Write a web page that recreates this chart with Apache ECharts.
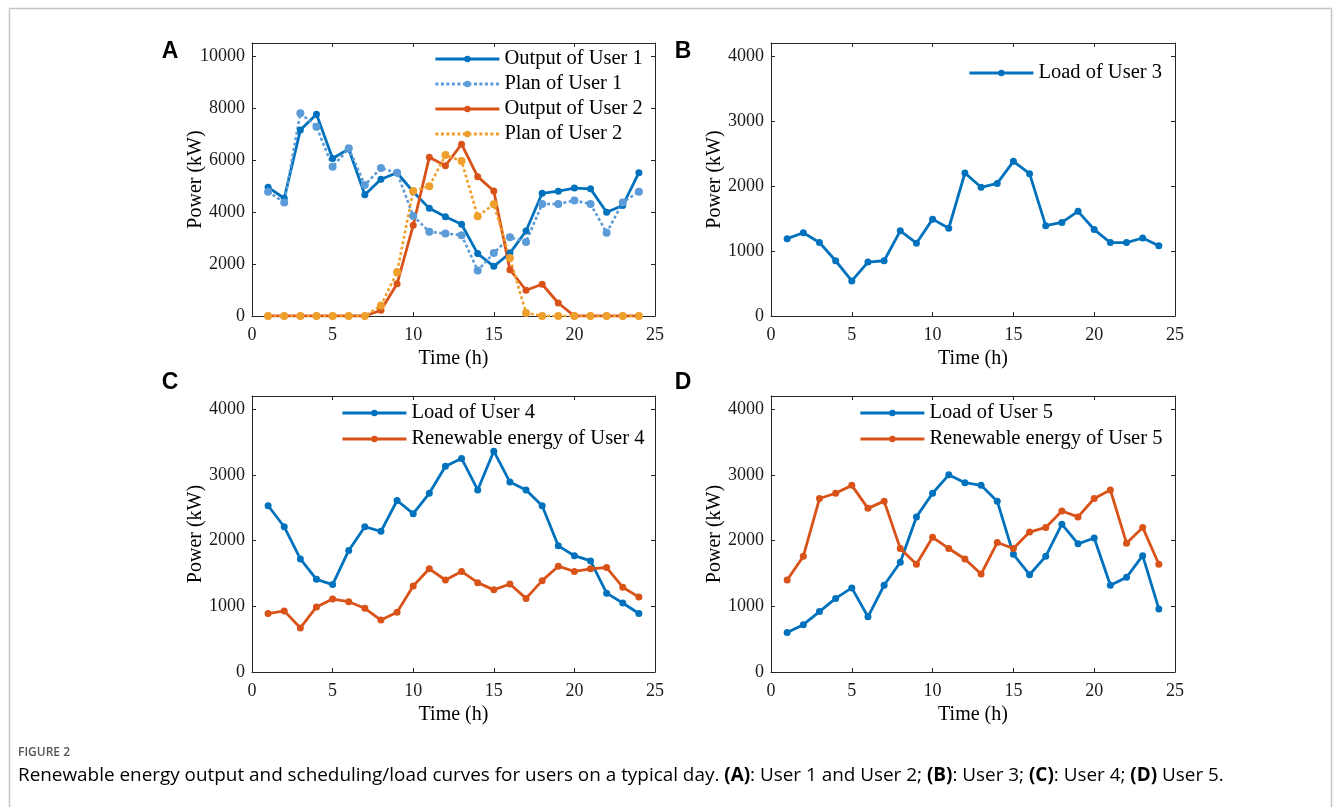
<!DOCTYPE html>
<html><head><meta charset="utf-8">
<script src="https://cdn.jsdelivr.net/npm/echarts@6/dist/echarts.min.js"></script>
<style>html,body{margin:0;padding:0;background:#fff;}#c{width:1333px;height:807px;}</style>
</head><body><div id="c"></div>
<script>
// ---- data ----
const hours = [1,2,3,4,5,6,7,8,9,10,11,12,13,14,15,16,17,18,19,20,21,22,23,24];
const outputUser1 = [4950,4530,7150,7760,6060,6420,4660,5260,5510,4780,4140,3820,3530,2400,1910,2420,3270,4720,4800,4920,4890,3990,4250,5510];
const planUser1   = [4780,4370,7800,7280,5740,6450,5040,5690,5510,3850,3240,3170,3110,1750,2420,3030,2850,4310,4310,4440,4310,3200,4370,4780];
const outputUser2 = [0,0,0,0,0,0,0,220,1240,3490,6110,5780,6610,5360,4810,1780,990,1220,500,0,0,0,0,0];
const planUser2   = [0,0,0,0,0,0,0,400,1690,4810,4990,6190,5960,3840,4300,2230,120,0,0,0,0,0,0,0];
const loadUser3   = [1190,1280,1130,850,540,830,850,1310,1120,1490,1350,2200,1980,2040,2380,2190,1390,1440,1610,1330,1130,1130,1200,1080];
const loadUser4   = [2530,2210,1720,1410,1330,1850,2210,2140,2610,2410,2720,3130,3250,2770,3360,2890,2770,2530,1920,1770,1690,1200,1050,890];
const renewUser4  = [890,930,670,990,1110,1070,970,790,910,1310,1570,1400,1530,1360,1250,1340,1120,1390,1610,1530,1570,1590,1290,1140];
const loadUser5   = [600,720,920,1120,1280,840,1320,1670,2360,2720,3000,2880,2840,2600,1790,1480,1760,2250,1950,2040,1320,1440,1770,960];
const renewUser5  = [1400,1760,2640,2720,2840,2490,2600,1880,1640,2050,1880,1720,1490,1970,1880,2130,2200,2450,2360,2640,2770,1960,2200,1640];
const xRange = {min: 0, max: 25, interval: 5};
const yRangeA = {min: 0, max: 10500, interval: 2000};
const yRangeOther = {min: 0, max: 4200, interval: 1000};
const panelLetters = ['A','B','C','D'];
const xName = 'Time (h)';
const yName = 'Power (kW)';

// ---- styling ----
const BLUE = '#0072BD', LBLUE = '#5b9bd8', RED = '#D95319', ORANGE = '#EFA02C';
const SERIF = '"Liberation Serif","Times New Roman",serif';
const AX = '#262626';

const grids = [
  {left: 252, top: 43, width: 403, height: 273},
  {left: 771, top: 43, width: 404, height: 273},
  {left: 252, top: 396, width: 403, height: 276},
  {left: 771, top: 396, width: 404, height: 276}
];

const xAxes = [], yAxes = [];
grids.forEach((g, i) => {
  const yr = i === 0 ? yRangeA : yRangeOther;
  xAxes.push({
    type: 'value', gridIndex: i, position: 'bottom', min: xRange.min, max: xRange.max, interval: xRange.interval,
    name: xName, nameLocation: 'middle', nameGap: 33, nameMoveOverlap: false,
    nameTextStyle: {fontFamily: SERIF, fontSize: 20, color: '#000'},
    axisLine: {onZero: false, lineStyle: {color: AX, width: 1}},
    axisTick: {inside: true, length: 4, lineStyle: {color: AX}},
    axisLabel: {fontFamily: SERIF, fontSize: 18, color: '#1a1a1a', margin: 10, formatter: v => String(v)},
    splitLine: {show: false}
  });
  xAxes.push({
    type: 'value', gridIndex: i, position: 'top', min: xRange.min, max: xRange.max, interval: xRange.interval,
    axisLine: {onZero: false, lineStyle: {color: AX, width: 1}},
    axisTick: {inside: true, length: 4, lineStyle: {color: AX}},
    axisLabel: {show: false}, splitLine: {show: false}
  });
  yAxes.push({
    type: 'value', gridIndex: i, position: 'left', min: yr.min, max: yr.max, interval: yr.interval,
    name: yName, nameLocation: 'middle', nameGap: 46, nameMoveOverlap: false,
    nameTextStyle: {fontFamily: SERIF, fontSize: 20, color: '#000'},
    axisLine: {show: true, onZero: false, lineStyle: {color: AX, width: 1}},
    axisTick: {show: true, inside: true, length: 4, lineStyle: {color: AX}},
    axisLabel: {fontFamily: SERIF, fontSize: 18, color: '#1a1a1a', margin: 7, showMaxLabel: false, formatter: v => String(v)},
    splitLine: {show: false}
  });
  yAxes.push({
    type: 'value', gridIndex: i, position: 'right', min: yr.min, max: yr.max, interval: yr.interval,
    axisLine: {show: true, onZero: false, lineStyle: {color: AX, width: 1}},
    axisTick: {show: true, inside: true, length: 4, lineStyle: {color: AX}},
    axisLabel: {show: false}, splitLine: {show: false}
  });
});

function mk(name, values, panel, color, dotted, size) {
  return {
    type: 'line', name: name, xAxisIndex: panel * 2, yAxisIndex: panel * 2,
    data: hours.map((h, k) => [h, values[k]]),
    symbol: 'circle', symbolSize: size || 7, showSymbol: true,
    itemStyle: {color: color},
    lineStyle: {color: color, width: dotted ? 2.6 : 2.8, type: dotted ? [3, 2.5] : 'solid'},
    emphasis: {disabled: true}, animation: false
  };
}

const series = [
  mk('Output of User 1', outputUser1, 0, BLUE, false, 7),
  mk('Plan of User 1', planUser1, 0, LBLUE, true, 8),
  mk('Output of User 2', outputUser2, 0, RED, false, 7),
  mk('Plan of User 2', planUser2, 0, ORANGE, true, 8),
  mk('Load of User 3', loadUser3, 1, BLUE, false, 7),
  mk('Load of User 4', loadUser4, 2, BLUE, false, 7),
  mk('Renewable energy of User 4', renewUser4, 2, RED, false, 7),
  mk('Load of User 5', loadUser5, 3, BLUE, false, 7),
  mk('Renewable energy of User 5', renewUser5, 3, RED, false, 7)
];

function legend(names, left, top, gap) {
  return {
    data: names, left: left, top: top, orient: 'vertical', itemWidth: 64, itemHeight: 8, itemGap: gap,
    padding: 0,
    lineStyle: {width: 2.8},
    textStyle: {fontFamily: SERIF, fontSize: 20.5, color: '#000', lineHeight: 22},
    selectedMode: false, backgroundColor: 'transparent'
  };
}

const legends = [
  legend(['Output of User 1','Plan of User 1','Output of User 2','Plan of User 2'], 434, 48, 3),
  legend(['Load of User 3'], 968, 62, 3),
  legend(['Load of User 4','Renewable energy of User 4'], 341, 402, 4),
  legend(['Load of User 5','Renewable energy of User 5'], 859, 402, 4)
];

const letterPos = [[170, 52], [683, 52], [170, 383], [683, 383]];
const graphics = panelLetters.map((t, i) => ({
  type: 'text', x: letterPos[i][0], y: letterPos[i][1],
  style: {text: t, font: 'bold 23px "Liberation Sans", Arial, sans-serif', fill: '#000', align: 'center', verticalAlign: 'middle'}
}));
// figure frame
graphics.push({type: 'line', shape: {x1: 9.5, y1: 8.5, x2: 1331.5, y2: 8.5}, style: {stroke: '#c4c4c4', lineWidth: 1.5}});
graphics.push({type: 'line', shape: {x1: 9.5, y1: 8.5, x2: 9.5, y2: 807}, style: {stroke: '#c4c4c4', lineWidth: 1.5}});
graphics.push({type: 'line', shape: {x1: 1331.5, y1: 8.5, x2: 1331.5, y2: 807}, style: {stroke: '#c4c4c4', lineWidth: 1.5}});
// caption
graphics.push({type: 'text', x: 18, y: 753, style: {text: 'FIGURE 2', font: '600 12px "Open Sans", sans-serif', fill: '#555', verticalAlign: 'middle'}});
graphics.push({type: 'text', x: 18, y: 776, style: {
  text: '{n|Renewable energy output and scheduling/load curves for users on a typical day. }{b|(A)}{n|: User 1 and User 2; }{b|(B)}{n|: User 3; }{b|(C)}{n|: User 4; }{b|(D)}{n| User 5.}',
  verticalAlign: 'middle',
  rich: {
    n: {fontFamily: '"Open Sans", sans-serif', fontSize: 18.9, color: '#606060'},
    b: {fontFamily: '"Open Sans", sans-serif', fontSize: 18.9, fontWeight: 'bold', color: '#606060'}
  }
}});

const chart = echarts.init(document.getElementById('c'), null, {renderer: 'canvas'});
chart.setOption({
  backgroundColor: '#fff', animation: false,
  grid: grids, xAxis: xAxes, yAxis: yAxes, series: series, legend: legends, graphic: graphics
});
</script>
</body></html>
